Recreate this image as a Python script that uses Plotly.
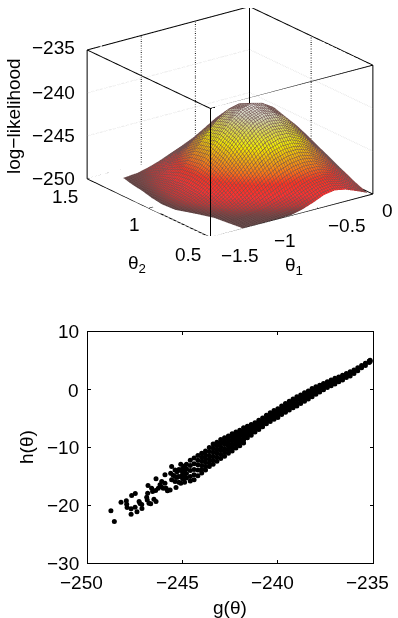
import numpy as np
import plotly.graph_objects as go

FONT = "Liberation Sans"
W, H = 398, 618

# surface: theta2 rows, theta1 columns (first column is the row's own left edge)
theta2 = [0.5, 0.6, 0.7, 0.8, 0.9, 1.0, 1.1, 1.2, 1.3, 1.4]
theta1_left = [-1.2, -1.22, -1.24, -1.3, -1.37, -1.38, -1.36, -1.33, -1.31, -1.28]
theta1 = [-1.15, -1.05, -0.95, -0.85, -0.75, -0.65, -0.55, -0.45, -0.35, -0.25, -0.15, -0.05]
loglik = [
    [-249.95, -249.95, -249.95, -249.95, -249.95, -249.9, -249.6, -249.15, -248.6, -248.4, -248.65, -249.15, -249.7],
    [-249.95, -249.9, -249.8, -249.6, -249.25, -248.8, -248.3, -247.7, -247.3, -247.2, -247.6, -248.3, -249.1],
    [-249.95, -249.6, -249.1, -248.4, -247.5, -246.6, -245.8, -245.4, -245.3, -245.6, -246.4, -247.3, -248.4],
    [-249.95, -249.1, -248.2, -247.0, -245.7, -244.5, -243.6, -243.2, -243.3, -244.0, -245.0, -246.3, -247.7],
    [-249.95, -248.6, -247.4, -246.0, -244.4, -243.0, -242.0, -241.6, -241.8, -242.6, -243.9, -245.4, -247.0],
    [-249.95, -248.4, -247.0, -245.4, -243.8, -242.4, -241.4, -241.0, -241.3, -242.1, -243.5, -245.0, -246.7],
    [-249.95, -248.6, -247.2, -245.7, -244.2, -242.9, -242.0, -241.7, -242.0, -242.8, -244.0, -245.5, -247.0],
    [-249.95, -249.0, -248.0, -246.8, -245.5, -244.5, -243.7, -243.4, -243.7, -244.4, -245.4, -246.6, -247.8],
    [-249.95, -249.5, -248.9, -248.1, -247.2, -246.4, -245.8, -245.6, -245.8, -246.3, -247.0, -247.8, -248.6],
    [-249.95, -249.8, -249.5, -249.1, -248.6, -248.1, -247.7, -247.5, -247.6, -247.9, -248.4, -248.9, -249.3],
]

# scatter: dense band, one list of h per g column, then the loose points
band_g = [-235.15, -235.2, -235.4, -235.6, -235.8, -236.0, -236.2, -236.4, -236.6, -236.8,
          -237.0, -237.2, -237.4, -237.6, -237.8, -238.0, -238.2, -238.4, -238.6, -238.8,
          -239.0, -239.2, -239.4, -239.6, -239.8, -240.0, -240.2, -240.4, -240.6, -240.8,
          -241.0, -241.2, -241.4, -241.6, -241.8, -242.0, -242.2, -242.4, -242.6, -242.8,
          -243.0, -243.2, -243.4, -243.6, -243.8, -244.0]
band_h = [[5.1, 4.9], [5.0, 4.7], [4.6, 4.2], [4.2, 3.8], [3.8, 3.3], [3.4, 2.8], [3.1, 2.75, 2.4],
          [2.8, 2.45, 2.1], [2.5, 2.1, 1.7], [2.2, 1.8, 1.4], [2.0, 1.5, 1.0], [1.7, 1.2, 0.7], [1.4, 0.9, 0.4],
          [1.1, 0.55, 0.0], [0.8, 0.2, -0.4], [0.5, 0.0, -0.4, -0.8], [0.2, -0.3, -0.8, -1.2],
          [-0.2, -0.7, -1.2, -1.6], [-0.5, -1.0, -1.5, -2.0], [-0.9, -1.4, -1.9, -2.4], [-1.2, -1.7, -2.3, -2.8],
          [-1.6, -2.1, -2.6, -3.1], [-2.0, -2.5, -3.0, -3.5], [-2.4, -2.9, -3.4, -3.9], [-2.8, -3.3, -3.8, -4.3],
          [-3.3, -3.8, -4.3, -4.8], [-3.6, -4.1, -4.6, -5.1], [-4.0, -4.5, -5.0, -5.5], [-4.4, -4.9, -5.4, -5.9],
          [-4.9, -5.4, -5.9, -6.4], [-5.3, -5.8, -6.3, -6.9], [-5.7, -6.2, -6.7, -7.3], [-6.0, -6.5, -7.0, -7.5, -7.9],
          [-6.3, -6.8, -7.3, -7.8, -8.3], [-6.6, -7.1, -7.7, -8.2, -8.7, -9.2], [-7.0, -7.5, -8.0, -8.6, -9.1, -9.7],
          [-7.3, -7.9, -8.4, -9.0, -9.5, -10.1], [-7.6, -8.2, -8.8, -9.4, -10.0, -10.6],
          [-8.0, -8.6, -9.2, -9.8, -10.4, -11.0], [-8.3, -8.9, -9.5, -10.2, -10.8, -11.5],
          [-8.6, -9.2, -9.9, -10.5, -11.2, -11.9], [-9.1, -9.7, -10.4, -11.0, -11.7, -12.4],
          [-9.4, -10.1, -10.8, -11.5, -12.2, -12.9], [-10.0, -10.7, -11.4, -12.0, -12.7, -13.3],
          [-10.6, -11.3, -12.0, -12.6, -13.3, -13.9], [-11.0, -11.7, -12.4, -13.1, -13.8, -14.4]]
loose_g = [-244.2, -244.2, -244.2, -244.2, -244.2, -244.4, -244.4, -244.4, -244.4, -244.4,
           -244.6, -244.6, -244.6, -244.6, -244.6, -244.8, -244.8, -244.8, -244.8, -244.9,
           -245.0, -245.0, -245.0, -245.1, -245.1,
           -245.3, -245.3, -245.4, -245.2, -245.1, -245.1, -244.9, -244.9, -245.5, -245.2, -245.4, -244.9,
           -248.77, -248.59, -248.24, -247.96, -247.94, -247.92, -247.71, -247.71, -247.5, -247.4,
           -247.68, -247.49, -247.29, -247.24, -247.14, -247.15, -246.82, -246.84, -246.89, -246.86,
           -246.77, -246.68, -246.51, -246.4, -246.4, -246.63, -246.58, -246.42, -246.28, -246.19,
           -246.1, -246.14, -245.93, -245.93, -245.8, -245.66, -245.58, -245.63, -245.4, -245.35,
           -245.58, -245.23, -245.87, -246.02]
loose_h = [-11.4, -12.2, -13.0, -13.9, -14.9, -11.8, -12.8, -13.8, -14.7, -15.6,
           -12.2, -13.1, -14.0, -15.0, -15.8, -12.9, -13.7, -14.5, -15.3, -16.0,
           -13.6, -14.6, -15.4, -12.9, -16.2,
           -14.2, -15.2, -15.0, -13.8, -14.0, -15.0, -14.0, -15.0, -14.8, -16.0, -15.9, -13.2,
           -20.97, -22.81, -19.47, -19.24, -19.82, -20.39, -20.62, -21.55, -20.33, -21.14,
           -18.32, -17.97, -19.35, -19.7, -20.56, -19.87, -16.59, -17.91, -18.6, -19.07,
           -19.64, -19.76, -18.95, -19.35, -15.43, -17.05, -17.62, -17.45, -17.05, -16.47,
           -15.89, -16.76, -14.74, -16.18, -17.51, -17.34, -13.3, -14.45, -13.88, -16.93,
           -15.6, -15.03, -17.05, -17.05]

x_ticks = [-1.5, -1, -0.5, 0]
y_ticks = [0.5, 1, 1.5]
z_ticks = [-250, -245, -240, -235]
g_ticks = [-250, -245, -240, -235]
h_ticks = [-30, -20, -10, 0, 10]
x_lo, x_hi = x_ticks[0], x_ticks[-1]
y_lo, y_hi = y_ticks[0], y_ticks[-1]
z_lo, z_hi = z_ticks[0], z_ticks[-1]

# colours follow the height of the surface
colors = [[0.0, "#4a3c3c"], [0.03, "#7a3c3c"], [0.08, "#c83434"], [0.16, "#ff3030"], [0.28, "#ff3020"], [0.38, "#fb7018"],
          [0.5, "#f0a810"], [0.64, "#f0ec00"], [0.78, "#dcdc50"], [0.9, "#cfcfb4"], [1.0, "#e4e4e4"]]


def px_x(x):
    return x / W


def px_y(y):
    return 1 - y / H


def minus(v):
    return str(v).replace("-", "\u2212")


fig = go.Figure()

x_grid = np.array([[left] + theta1 for left in theta1_left])
y_grid = np.array([[t2] * (len(theta1) + 1) for t2 in theta2])
fig.add_trace(go.Surface(
    x=x_grid, y=y_grid, z=loglik, surfacecolor=loglik, colorscale=colors, cmin=-250, cmax=-241,
    showscale=False, hoverinfo="skip",
    lighting=dict(ambient=1, diffuse=0, specular=0, fresnel=0),
    contours=dict(
        x=dict(show=True, start=x_lo, end=x_hi, size=0.02, color="#705050", width=1),
        y=dict(show=True, start=y_lo, end=y_hi, size=0.014, color="#705050", width=1),
    ),
))


def add_edge(xs, ys, zs, color="black", width=2, dash="solid"):
    fig.add_trace(go.Scatter3d(x=xs, y=ys, z=zs, mode="lines", hoverinfo="skip", showlegend=False,
                               line=dict(color=color, width=width, dash=dash)))


# box edges
for yv in [y_lo, y_hi]:
    for zv in [z_lo, z_hi]:
        add_edge([x_lo, x_hi], [yv, yv], [zv, zv])
for xv in [x_lo, x_hi]:
    for zv in [z_lo, z_hi]:
        add_edge([xv, xv], [y_lo, y_hi], [zv, zv])
for xv in [x_lo, x_hi]:
    for yv in [y_lo, y_hi]:
        add_edge([xv, xv], [yv, yv], [z_lo, z_hi])

# dotted grid on the back walls
for xv in x_ticks[1:-1]:
    add_edge([xv, xv], [y_hi, y_hi], [z_lo, z_hi], dash="dot")
for yv in y_ticks[1:-1]:
    add_edge([x_hi, x_hi], [yv, yv], [z_lo, z_hi], dash="dot")
for zv in z_ticks[1:-1]:
    add_edge([x_lo, x_hi], [y_hi, y_hi], [zv, zv], color="#d8d8d8", dash="dot")
    add_edge([x_hi, x_hi], [y_lo, y_hi], [zv, zv], color="#d8d8d8", dash="dot")

# short tick marks on the front edges
for xv in x_ticks[1:-1]:
    add_edge([xv, xv], [y_lo, y_lo + 0.025], [z_lo, z_lo], width=1)
for yv in y_ticks[1:-1]:
    add_edge([x_lo, x_lo + 0.04], [yv, yv], [z_lo, z_lo], width=1)

g_theta = list(loose_g)
h_theta = list(loose_h)
for g, hs in zip(band_g, band_h):
    g_theta += [g] * len(hs)
    h_theta += hs
fig.add_trace(go.Scatter(x=g_theta, y=h_theta, mode="markers", hoverinfo="skip", showlegend=False,
                         marker=dict(color="black", size=5, line=dict(width=0))))

hidden = dict(showgrid=False, zeroline=False, showticklabels=False, showbackground=False,
              showline=False, showspikes=False, ticks="", title="")

axis2d = dict(showgrid=False, zeroline=False, showline=True, linecolor="black", linewidth=1, mirror="ticks",
              ticks="inside", ticklen=3, tickcolor="black", tickwidth=1, showticklabels=False)

fig.update_layout(
    width=W, height=H, margin=dict(l=0, r=0, t=0, b=0, autoexpand=False), paper_bgcolor="white", plot_bgcolor="white",
    showlegend=False,
    scene=dict(
        domain=dict(x=[px_x(62), px_x(398)], y=[px_y(236), px_y(8)]),
        camera=dict(projection=dict(type="orthographic"),
                    eye=dict(x=-0.96, y=-1.28, z=0.61), up=dict(x=0, y=0, z=1)),
        aspectmode="manual", aspectratio=dict(x=1.78, y=1.803, z=1.21),
        xaxis=dict(range=[x_lo, x_hi], **hidden),
        yaxis=dict(range=[y_lo, y_hi], **hidden),
        zaxis=dict(range=[z_lo, z_hi], **hidden),
    ),
    xaxis=dict(domain=[px_x(87.5), px_x(373)], range=[-250, -235], tickvals=g_ticks, **axis2d),
    yaxis=dict(domain=[px_y(563), px_y(332)], range=[-30, 10], tickvals=h_ticks, **axis2d),
)


def label(text, x, y, angle=0, xanchor="center", size=19):
    fig.add_annotation(text=text, x=px_x(x), y=px_y(y), xref="paper", yref="paper", showarrow=False,
                       xanchor=xanchor, yanchor="middle", textangle=angle,
                       font=dict(family=FONT, size=size, color="black"))


for zv, y in zip(z_ticks, [178, 135, 92, 48]):
    label(minus(zv), 77, y, xanchor="right")
label("1.5", 65, 197)
label("1", 134, 224)
label("0.5", 188, 254)
label("\u22121.5", 240, 255)
label("\u22121", 285, 240)
label("\u22120.5", 347, 225)
label("0", 387, 210)
label("log\u2212likelihood", 13, 116, angle=-90)
label("\u03b8<sub>2</sub>", 137, 264)
label("\u03b8<sub>1</sub>", 294, 266)

for gv, x in zip(g_ticks, [81, 177, 272, 367.5]):
    label(minus(gv), x, 582)
for hv, y in zip(h_ticks, [563, 505, 447, 390, 332]):
    label(minus(hv), 81, y, xanchor="right")
label("g(\u03b8)", 230, 607)
label("h(\u03b8)", 26, 447, angle=-90)

# drop the page's default body margin so the figure fills the window exactly
fig.write_html("out.html", config=dict(displayModeBar=False),
               post_script="document.body.style.margin='0';document.documentElement.style.overflow='hidden';")
